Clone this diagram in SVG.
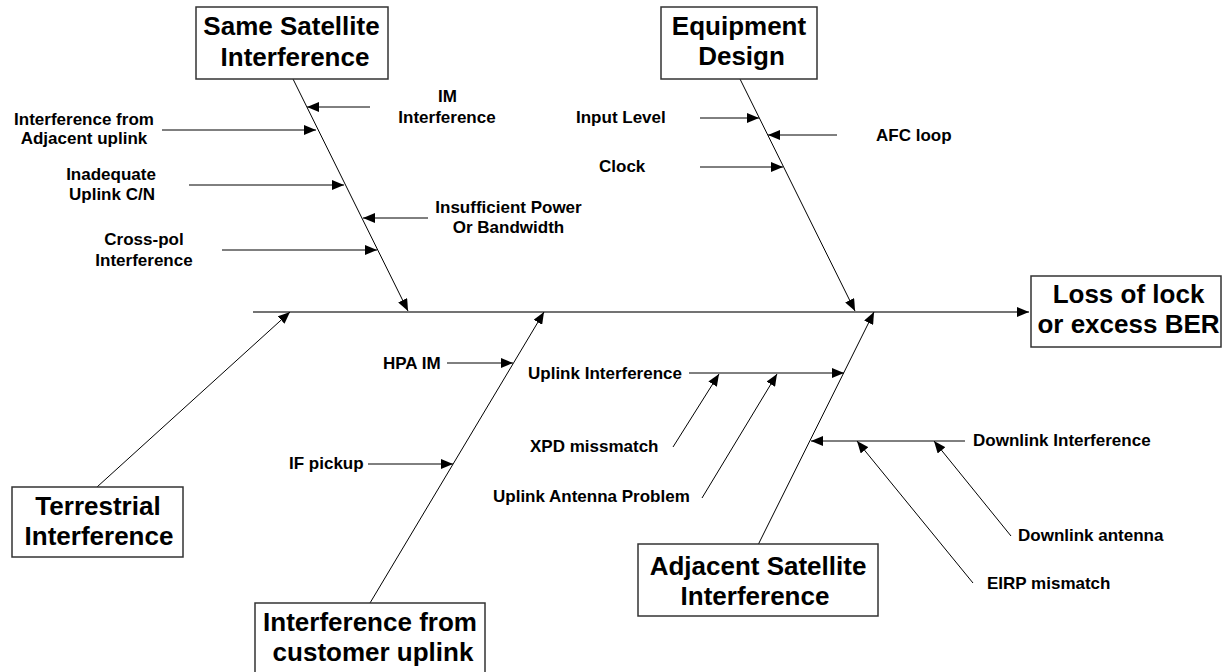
<svg xmlns="http://www.w3.org/2000/svg" width="1223" height="672" viewBox="0 0 1223 672">
  <defs>
    <marker id="arrow" markerUnits="userSpaceOnUse" markerWidth="12" markerHeight="10" refX="12" refY="5" orient="auto">
      <path d="M0,0 L12,5 L0,10 z" fill="#000"/>
    </marker>
    <style>
      .box { fill: #fff; stroke: #333; stroke-width: 1.5; }
      .title { font-family: "Liberation Sans", Arial, sans-serif; font-weight: bold; font-size: 26px; fill: #000; text-anchor: middle; }
      .lbl { font-family: "Liberation Sans", Arial, sans-serif; font-weight: bold; font-size: 17px; fill: #000; }
      .mid { text-anchor: middle; }
      .bone { stroke: #000; stroke-width: 1; fill: none; }
      .spine { stroke: #444; stroke-width: 1.6; fill: none; }
      .arr { marker-end: url(#arrow); }
    </style>
  </defs>
  <rect width="1223" height="672" fill="#fff"/>

  <!-- connectors: spine, main bones and cause arrows -->
  <g id="connectors">
    <line class="spine arr" x1="253" y1="312" x2="1029" y2="312"/>
    <!-- main bones -->
    <line class="bone arr" x1="293" y1="79" x2="408" y2="311"/>
    <line class="bone arr" x1="740" y1="79" x2="855" y2="311"/>
    <line class="bone arr" x1="97" y1="487" x2="290" y2="312"/>
    <line class="bone arr" x1="370" y1="603" x2="544" y2="312"/>
    <line class="bone arr" x1="758" y1="545" x2="874" y2="312"/>
    <!-- same satellite causes -->
    <line class="bone arr" x1="370" y1="107" x2="307" y2="107"/>
    <line class="bone arr" x1="162" y1="130" x2="316" y2="130"/>
    <line class="bone arr" x1="189" y1="185" x2="344" y2="185"/>
    <line class="bone arr" x1="428" y1="218" x2="363" y2="218"/>
    <line class="bone arr" x1="222" y1="250" x2="377" y2="250"/>
    <!-- equipment design causes -->
    <line class="bone arr" x1="700" y1="118" x2="759" y2="118"/>
    <line class="bone arr" x1="837" y1="135" x2="768" y2="135"/>
    <line class="bone arr" x1="700" y1="167" x2="783" y2="167"/>
    <!-- customer uplink causes -->
    <line class="bone arr" x1="447" y1="363" x2="513" y2="363"/>
    <line class="bone arr" x1="368" y1="464" x2="453" y2="464"/>
    <!-- adjacent satellite causes -->
    <line class="bone arr" x1="689" y1="373" x2="844" y2="373"/>
    <line class="bone arr" x1="673" y1="447" x2="719" y2="374"/>
    <line class="bone arr" x1="702" y1="498" x2="777" y2="374"/>
    <line class="bone arr" x1="965" y1="441" x2="811" y2="441"/>
    <line class="bone arr" x1="1011" y1="536" x2="934" y2="441"/>
    <line class="bone arr" x1="973" y1="583" x2="857" y2="441"/>
  </g>

  <!-- category boxes -->
  <g id="same-satellite">
    <rect class="box" x="196" y="7" width="192" height="72"/>
    <text class="title" x="291.5" y="35">Same Satellite</text>
    <text class="title" x="295" y="66">Interference</text>
  </g>
  <g id="equipment-design">
    <rect class="box" x="661" y="7" width="156" height="72"/>
    <text class="title" x="739" y="35">Equipment</text>
    <text class="title" x="741.5" y="65">Design</text>
  </g>
  <g id="loss-of-lock">
    <rect class="box" x="1031" y="276" width="190" height="71"/>
    <text class="title" x="1128.5" y="303">Loss of lock</text>
    <text class="title" x="1128.5" y="333">or excess BER</text>
  </g>
  <g id="terrestrial">
    <rect class="box" x="12" y="487" width="171" height="70"/>
    <text class="title" x="98" y="515">Terrestrial</text>
    <text class="title" x="99" y="545">Interference</text>
  </g>
  <g id="customer-uplink">
    <rect class="box" x="255" y="603" width="230" height="72"/>
    <text class="title" x="370" y="631">Interference from</text>
    <text class="title" x="373" y="661">customer uplink</text>
  </g>
  <g id="adjacent-satellite">
    <rect class="box" x="638" y="544" width="240" height="72"/>
    <text class="title" x="758" y="575">Adjacent Satellite</text>
    <text class="title" x="755" y="605">Interference</text>
  </g>

  <!-- cause labels -->
  <g id="im-interference">
    <text class="lbl mid" x="447.5" y="102">IM</text>
    <text class="lbl mid" x="447" y="123">Interference</text>
  </g>
  <g id="adjacent-uplink">
    <text class="lbl mid" x="84" y="125">Interference from</text>
    <text class="lbl mid" x="84" y="144">Adjacent uplink</text>
  </g>
  <g id="uplink-cn">
    <text class="lbl mid" x="111" y="180">Inadequate</text>
    <text class="lbl mid" x="112" y="200">Uplink C/N</text>
  </g>
  <g id="insufficient-power">
    <text class="lbl mid" x="508.5" y="213">Insufficient Power</text>
    <text class="lbl mid" x="508.5" y="233">Or Bandwidth</text>
  </g>
  <g id="cross-pol">
    <text class="lbl mid" x="144" y="245">Cross-pol</text>
    <text class="lbl mid" x="144" y="266">Interference</text>
  </g>
  <g id="input-level"><text class="lbl" x="576" y="123">Input Level</text></g>
  <g id="afc-loop"><text class="lbl" x="876" y="141">AFC loop</text></g>
  <g id="clock"><text class="lbl" x="599" y="172">Clock</text></g>
  <g id="hpa-im"><text class="lbl" x="383" y="369">HPA IM</text></g>
  <g id="if-pickup"><text class="lbl" x="289" y="469">IF pickup</text></g>
  <g id="uplink-interference"><text class="lbl" x="528" y="379">Uplink Interference</text></g>
  <g id="xpd-mismatch"><text class="lbl" x="530" y="452">XPD missmatch</text></g>
  <g id="uplink-antenna"><text class="lbl" x="493" y="502">Uplink Antenna Problem</text></g>
  <g id="downlink-interference"><text class="lbl" x="973" y="446">Downlink Interference</text></g>
  <g id="downlink-antenna"><text class="lbl" x="1018" y="541">Downlink antenna</text></g>
  <g id="eirp-mismatch"><text class="lbl" x="987" y="589">EIRP mismatch</text></g>
</svg>
